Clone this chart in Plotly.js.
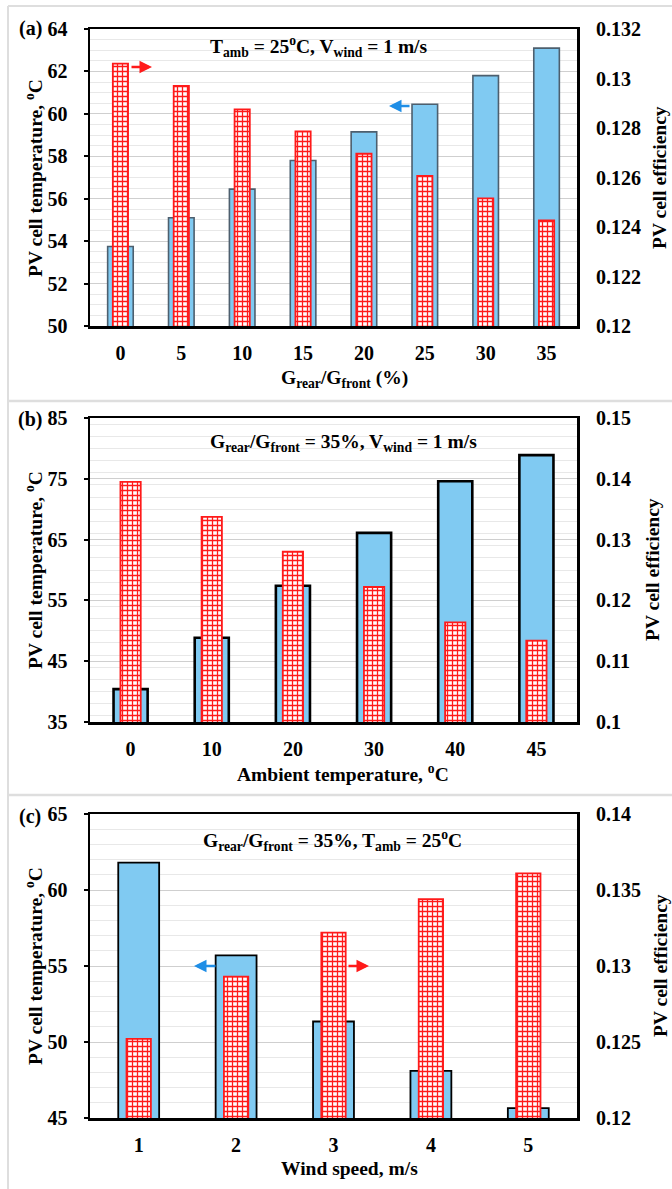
<!DOCTYPE html>
<html><head><meta charset="utf-8">
<script src="https://cdn.plot.ly/plotly-3.0.1.min.js"></script>
<style>html,body{margin:0;padding:0;background:#fff}#chart{width:672px;height:1189px}</style>
</head><body><div id="chart"></div>
<script>
// ---- data ----
const aCats = ['0','5','10','15','20','25','30','35'];
const aTemp = [53.75,55.1,56.45,57.8,59.15,60.45,61.8,63.1];
const aEff  = [0.1306,0.1297,0.12875,0.12786,0.12696,0.12606,0.12516,0.12427];
const aEffTicks = [0.12,0.122,0.124,0.126,0.128,0.13,0.132];
const aEffLabels = ['0.12','0.122','0.124','0.126','0.128','0.13','0.132'];

const bCats = ['0','10','20','30','40','45'];
const bTemp = [40.4,48.85,57.4,66.1,74.6,78.9];
const bEff  = [0.1395,0.13375,0.128,0.1222,0.1164,0.1134];
const bEffTicks = [0.1,0.11,0.12,0.13,0.14,0.15];
const bEffLabels = ['0.1','0.11','0.12','0.13','0.14','0.15'];

const cCats = ['1','2','3','4','5'];
const cTemp = [61.8,55.7,51.35,48.1,45.65];
const cEff  = [0.1252,0.1293,0.1322,0.1344,0.1361];
const cEffTicks = [0.12,0.125,0.13,0.135,0.14];
const cEffLabels = ['0.12','0.125','0.13','0.135','0.14'];

const W = 672, H = 1189;
const px = x => x / W;
const py = y => 1 - y / H;
const FONT = 'Liberation Serif, Times New Roman, serif';
const BLUE = '#80caf2';
const RED = '#ff1a1a';

function tempBar(x, y, xa, ya, lineColor, lineW) {
  return {type:'bar', x:x, y:y, xaxis:xa, yaxis:ya, width:0.42,
    marker:{color:BLUE, line:{color:lineColor, width:lineW}}, hoverinfo:'skip'};
}
function effBar(x, y, xa, ya) {
  return {type:'bar', x:x, y:y, xaxis:xa, yaxis:ya, width:0.25,
    marker:{color:'#ffffff', line:{color:RED, width:1.8},
      pattern:{shape:'+', fgcolor:RED, bgcolor:'#ffffff', size:5, solidity:0.45}},
    hoverinfo:'skip'};
}

const data = [
  tempBar(aCats, aTemp, 'x', 'y', '#4d5f6e', 1.6),
  effBar(aCats, aEff, 'x', 'y2'),
  tempBar(bCats, bTemp, 'x2', 'y3', '#000000', 2.6),
  effBar(bCats, bEff, 'x2', 'y4'),
  tempBar(cCats, cTemp, 'x3', 'y5', '#000000', 1.8),
  effBar(cCats, cEff, 'x3', 'y6')
];

const tickFont = {family:FONT, size:20, color:'#000', weight:'bold'};
const xdom = [px(90), px(577)];
function xAxis(n, anchor) {
  return {domain:xdom, anchor:anchor, type:'category', range:[-0.5, n-0.5],
    showline:true, mirror:true, linecolor:'#000', linewidth:2.5,
    ticks:'', tickfont:tickFont, ticklabelstandoff:7, showgrid:false, zeroline:false, fixedrange:true};
}
function yLeft(dom, range, dtick, minor, anchor) {
  return {domain:dom, anchor:anchor, range:range, dtick:dtick, tick0:range[0],
    showline:true, mirror:true, linecolor:'#000', linewidth:2.5,
    ticks:'outside', ticklen:4, tickwidth:2, tickcolor:'#000',
    tickfont:tickFont, ticklabelstandoff:12,
    showgrid:true, gridcolor:'#cfcfcf', gridwidth:1,
    minor:{dtick:minor, showgrid:true, gridcolor:'#e8e8e8', gridwidth:1, ticks:''},
    zeroline:false, fixedrange:true};
}
function yRight(range, vals, labels, anchor, overlay) {
  return {overlaying:overlay, anchor:anchor, side:'right', range:range,
    tickvals:vals, ticktext:labels, showline:false, ticks:'',
    tickfont:tickFont, ticklabelstandoff:18, showgrid:false, zeroline:false, fixedrange:true};
}

const titleFont = {family:FONT, size:19.5, color:'#000', weight:'bold'};
function ann(text, x, y, opts) {
  return Object.assign({text:text, xref:'paper', yref:'paper', x:px(x), y:py(y),
    showarrow:false, font:titleFont, xanchor:'center', yanchor:'middle'}, opts || {});
}
function arrow(xHead, xTail, y, color) {
  return {xref:'paper', yref:'paper', x:px(xHead), y:py(y), ax:xTail - xHead, ay:0,
    axref:'pixel', ayref:'pixel', text:'', showarrow:true, arrowhead:2, arrowsize:1,
    arrowwidth:2.5, arrowcolor:color};
}

const annotations = [
  // panel labels
  ann('(a)', 30, 28, {font:{family:FONT, size:20, color:'#000', weight:'bold'}}),
  ann('(b)', 30, 419, {font:{family:FONT, size:20, color:'#000', weight:'bold'}}),
  ann('(c)', 30, 816, {font:{family:FONT, size:20, color:'#000', weight:'bold'}}),
  // condition text
  ann('T<sub>amb</sub> = 25<sup>o</sup>C, V<sub>wind</sub> = 1 m/s', 319, 47),
  ann('G<sub>rear</sub>/G<sub>front</sub> = 35%, V<sub>wind</sub> = 1 m/s', 343, 443),
  ann('G<sub>rear</sub>/G<sub>front</sub> = 35%, T<sub>amb</sub> = 25<sup>o</sup>C', 332, 840),
  // axis titles
  ann('G<sub>rear</sub>/G<sub>front</sub> (%)', 345, 379),
  ann('Ambient temperature, <sup>o</sup>C', 343, 773),
  ann('Wind speed, m/s', 349, 1168),
  ann('PV cell temperature, <sup>o</sup>C', 34, 178, {textangle:-90}),
  ann('PV cell temperature, <sup>o</sup>C', 34, 570, {textangle:-90}),
  ann('PV cell temperature, <sup>o</sup>C', 34, 966, {textangle:-90}),
  ann('PV cell efficiency', 660, 178, {textangle:-90}),
  ann('PV cell efficiency', 652, 570, {textangle:-90}),
  ann('PV cell efficiency', 660, 966, {textangle:-90}),
  // arrows
  arrow(152, 130, 67, RED),
  arrow(389, 411, 106, '#1f8ee6'),
  arrow(194, 217, 966, '#1f8ee6'),
  arrow(369, 347, 966, RED)
];

const borderColor = '#dedede';
const shapes = [
  {type:'line', xref:'paper', yref:'paper', x0:px(8), x1:1.1, y0:py(6), y1:py(6), line:{color:borderColor, width:2}},
  {type:'line', xref:'paper', yref:'paper', x0:px(8), x1:1.1, y0:py(401), y1:py(401), line:{color:borderColor, width:2.5}},
  {type:'line', xref:'paper', yref:'paper', x0:px(8), x1:1.1, y0:py(795), y1:py(795), line:{color:borderColor, width:2.5}},
  {type:'line', xref:'paper', yref:'paper', x0:px(8), x1:px(8), y0:py(6), y1:-0.05, line:{color:borderColor, width:2}}
];

const layout = {
  width:W, height:H, margin:{l:0, r:0, t:0, b:0},
  paper_bgcolor:'#fff', plot_bgcolor:'#fff', showlegend:false, barmode:'overlay',
  font:{family:FONT, color:'#000'},
  xaxis: xAxis(aCats.length, 'y'),
  yaxis: yLeft([py(326), py(29)], [50, 64], 2, 0.5, 'x'),
  yaxis2: yRight([0.12, 0.132], aEffTicks, aEffLabels, 'x', 'y'),
  xaxis2: xAxis(bCats.length, 'y3'),
  yaxis3: yLeft([py(722), py(418)], [35, 85], 10, 2, 'x2'),
  yaxis4: yRight([0.1, 0.15], bEffTicks, bEffLabels, 'x2', 'y3'),
  xaxis3: xAxis(cCats.length, 'y5'),
  yaxis5: yLeft([py(1118), py(814)], [45, 65], 5, 1, 'x3'),
  yaxis6: yRight([0.12, 0.14], cEffTicks, cEffLabels, 'x3', 'y5'),
  annotations: annotations,
  shapes: shapes
};

Plotly.newPlot('chart', data, layout, {staticPlot:true, displayModeBar:false});
</script></body></html>
